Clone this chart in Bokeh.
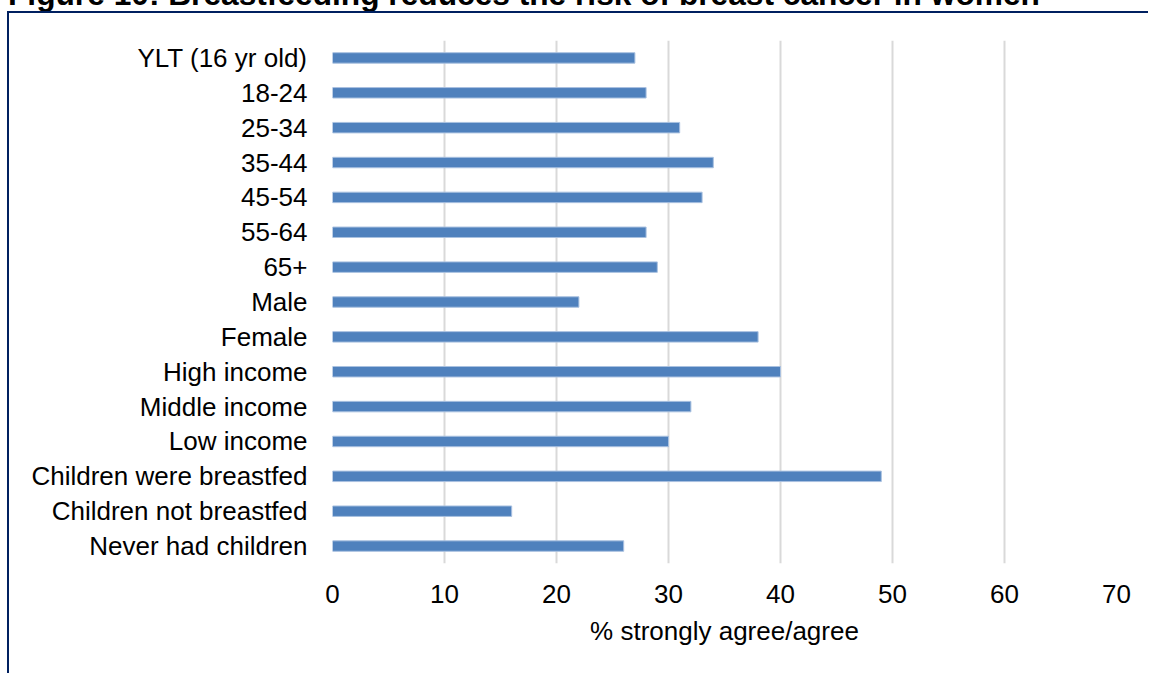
from bokeh.plotting import figure
from bokeh.models import Range1d, FactorRange, FixedTicker, ColumnDataSource, Div
from bokeh.layouts import column
from bokeh.embed import file_html
from bokeh.resources import INLINE

title_text = "Figure 10: Breastfeeding reduces the risk of breast cancer in women"
categories = ["YLT (16 yr old)", "18-24", "25-34", "35-44", "45-54", "55-64", "65+",
              "Male", "Female", "High income", "Middle income", "Low income",
              "Children were breastfed", "Children not breastfed", "Never had children"]
values = [27, 28, 31, 34, 33, 28, 29, 22, 38, 40, 32, 30, 49, 16, 26]
x_ticks = [0, 10, 20, 30, 40, 50, 60, 70]
x_title = "% strongly agree/agree"

FONT = "Liberation Sans"
NAVY = "#002060"

# page geometry: title strip 11px, then 2px navy border top/left around the chart
TOP = 11
BORDER = 2
LEFT = 7
W = 1150 - LEFT - BORDER
H = 675 - TOP - BORDER

p = figure(width=W, height=H, output_backend="svg", toolbar_location=None,
           title=None,
           y_range=FactorRange(factors=list(reversed(categories)), range_padding=0),
           x_range=Range1d(0, 70))
p.min_border_left = 332 - LEFT - BORDER
p.min_border_right = 34
p.min_border_top = 40 - TOP - BORDER
p.min_border_bottom = 112
p.outline_line_color = None
p.background_fill_color = "white"
p.border_fill_color = "white"
p.margin = (0, 0, 0, LEFT)
p.styles = {"border-top": f"{BORDER}px solid {NAVY}",
            "border-left": f"{BORDER}px solid {NAVY}"}

src = ColumnDataSource(dict(cat=categories, val=values))
p.hbar(y="cat", right="val", left=0, height=0.3, source=src,
       fill_color="#4F81BD", line_color="#A9C1E0", line_width=1)

p.xgrid.grid_line_color = "#D9D9D9"
p.xgrid.grid_line_width = 2
p.ygrid.grid_line_color = None

p.xaxis.ticker = FixedTicker(ticks=x_ticks)
p.xaxis.axis_line_color = None
p.xaxis.major_tick_line_color = None
p.xaxis.minor_tick_line_color = None
p.xaxis.major_label_text_font = FONT
p.xaxis.major_label_text_font_size = "26px"
p.xaxis.major_label_text_color = "#000000"
p.xaxis.major_label_standoff = 15
p.xaxis.axis_label = x_title
p.xaxis.axis_label_text_font = FONT
p.xaxis.axis_label_text_font_size = "26px"
p.xaxis.axis_label_text_font_style = "normal"
p.xaxis.axis_label_text_color = "#000000"
p.xaxis.axis_label_standoff = 10

p.yaxis.axis_line_color = None
p.yaxis.major_tick_line_color = None
p.yaxis.minor_tick_line_color = None
p.yaxis.major_label_text_font = FONT
p.yaxis.major_label_text_font_size = "26px"
p.yaxis.major_label_text_color = "#000000"
p.yaxis.major_label_standoff = 19

title_html = (
    '<div style="position:absolute; left:8px; top:-22px; white-space:nowrap; '
    f"font-family:'{FONT}'; font-weight:bold; font-size:31.7px; line-height:32px; "
    f'color:#000000;">{title_text}</div>'
)
title_div = Div(text=title_html, width=1150, height=TOP, margin=(0, 0, 0, 0),
                styles={"overflow": "hidden", "position": "relative"})

layout = column(title_div, p, spacing=0, margin=(0, 0, 0, 0))

open("out.html", "w").write(file_html(layout, INLINE))
